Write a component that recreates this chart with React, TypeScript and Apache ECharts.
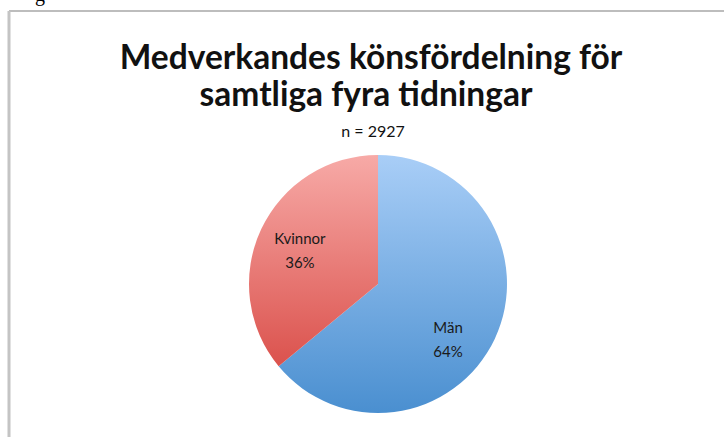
import React, { useEffect, useRef } from "react";
import * as echarts from "echarts";

const titleLine1 = "Medverkandes könsfördelning för";
const titleLine2 = "samtliga fyra tidningar";
const subtitle = "n = 2927";
const categories = ["Män", "Kvinnor"];
const counts = [1873, 1054];

export default function App() {
  const ref = useRef<HTMLDivElement>(null);
  useEffect(() => {
    document.body.style.margin = "0";
    const chart = echarts.init(ref.current!, null, { renderer: "svg" });
    const colors = [
      ["#a9cef7", "#4a8fd0"],
      ["#f7aaa7", "#db524d"],
    ];
    const offsets = [
      [9, 26],
      [-17, -5],
    ];
    const titleStyle = {
      fontFamily: "Lato",
      fontWeight: "bold",
      fontSize: 33.5,
      lineHeight: 34,
      color: "#111111",
    };
    chart.setOption({
      animation: false,
      backgroundColor: "#ffffff",
      title: [
        {
          text: titleLine1,
          left: 371,
          top: 39,
          padding: 0,
          textAlign: "center",
          textStyle: titleStyle,
        },
        {
          text: titleLine2,
          left: 366,
          top: 76,
          padding: 0,
          textAlign: "center",
          textStyle: titleStyle,
        },
        {
          text: subtitle,
          left: 373,
          top: 122,
          padding: 0,
          textAlign: "center",
          textStyle: {
            fontFamily: "Lato",
            fontWeight: "normal",
            fontSize: 16,
            color: "#111111",
          },
        },
      ],
      graphic: [
        {
          type: "line",
          shape: { x1: 9, y1: 11, x2: 724, y2: 11 },
          style: { stroke: "#bdbdbd", lineWidth: 2 },
        },
        {
          type: "line",
          shape: { x1: 9, y1: 11, x2: 9, y2: 437 },
          style: { stroke: "#c4c4c4", lineWidth: 3 },
        },
        {
          type: "text",
          x: 35,
          y: -16,
          style: { text: "g", font: "20px 'Liberation Serif'", fill: "#000" },
        },
      ],
      series: [
        {
          type: "pie",
          center: [378, 284],
          radius: 129,
          startAngle: 90,
          clockwise: true,
          label: {
            show: true,
            position: "inside",
            formatter: (p: any) => `${p.name}\n${Math.round(p.percent)}%`,
            fontFamily: "Lato",
            fontSize: 15,
            lineHeight: 24,
            color: "#1a1a1a",
          },
          labelLine: { show: false },
          emphasis: { disabled: true },
          data: categories.map((c, i) => ({
            name: c,
            value: counts[i],
            label: { offset: offsets[i] },
            itemStyle: {
              color: {
                type: "linear",
                x: 0,
                y: 0,
                x2: 0,
                y2: 1,
                colorStops: [
                  { offset: 0, color: colors[i][0] },
                  { offset: 1, color: colors[i][1] },
                ],
              },
            },
          })),
        },
      ],
    });
    return () => chart.dispose();
  }, []);
  return <div ref={ref} style={{ width: 724, height: 437 }} />;
}
